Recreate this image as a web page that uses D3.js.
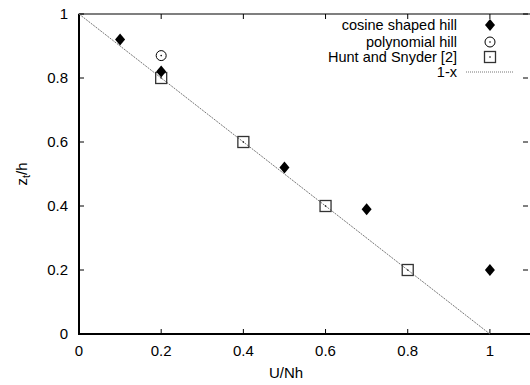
<!DOCTYPE html>
<html lang="en">
<head>
  <meta charset="UTF-8">
  <title>z_t/h versus U/Nh</title>
  <style>
    body { margin: 0; background: #fff; }
    text { font-family: "Liberation Sans", Arial, sans-serif; font-size: 15px; fill: #000; }
    .legend text { font-size: 14.5px; }
  </style>
</head>
<body>
<div id="chart"></div>
<script src="https://d3js.org/d3.v7.min.js"></script>
<script>
  // data
  var cosineX = [0.1, 0.2, 0.5, 0.7, 1.0];
  var cosineY = [0.92, 0.82, 0.52, 0.39, 0.2];
  var polyX = [0.2];
  var polyY = [0.87];
  var huntX = [0.2, 0.4, 0.6, 0.8];
  var huntY = [0.8, 0.6, 0.4, 0.2];
  var lineX = [0, 1];
  var xTicks = [0, 0.2, 0.4, 0.6, 0.8, 1];
  var yTicks = [0, 0.2, 0.4, 0.6, 0.8, 1];
  var legendLabels = ["cosine shaped hill", "polynomial hill", "Hunt and Snyder [2]", "1-x"];

  var width = 530, height = 385;
  var pL = 79, pT = 14, pR = 531, pB = 334;

  var svg = d3.select("#chart").append("svg")
    .attr("width", width)
    .attr("height", height);

  var x = d3.scaleLinear().domain([0, 1.1]).range([pL, pR]);
  var y = d3.scaleLinear().domain([0, 1]).range([pB, pT]);

  // frame: thin top/right, heavier left/bottom
  svg.append("rect")
    .attr("x", pL).attr("y", pT)
    .attr("width", pR - pL).attr("height", pB - pT)
    .attr("fill", "none").attr("stroke", "#000").attr("stroke-width", 1);
  svg.append("path")
    .attr("d", "M" + pL + "," + pT + "V" + pB + "H" + pR)
    .attr("fill", "none").attr("stroke", "#000").attr("stroke-width", 2);

  // ticks (inward, mirrored)
  var tickLen = 5;
  xTicks.forEach(function(t) {
    svg.append("line").attr("x1", x(t)).attr("x2", x(t))
      .attr("y1", pB).attr("y2", pB - tickLen).attr("stroke", "#000");
    svg.append("line").attr("x1", x(t)).attr("x2", x(t))
      .attr("y1", pT).attr("y2", pT + tickLen).attr("stroke", "#000");
    svg.append("text").attr("x", x(t)).attr("y", pB + 22)
      .attr("text-anchor", "middle").text(d3.format("")(t));
  });
  yTicks.forEach(function(t) {
    svg.append("line").attr("x1", pL).attr("x2", pL + tickLen)
      .attr("y1", y(t)).attr("y2", y(t)).attr("stroke", "#000");
    svg.append("line").attr("x1", pR - 3).attr("x2", pR - 3 - tickLen)
      .attr("y1", y(t)).attr("y2", y(t)).attr("stroke", "#000");
    svg.append("text").attr("x", pL - 11).attr("y", y(t) + 5)
      .attr("text-anchor", "end").text(d3.format("")(t));
  });

  // axis labels
  svg.append("text").attr("x", 286).attr("y", 378)
    .attr("text-anchor", "middle").text("U/Nh");
  var yl = svg.append("text")
    .attr("transform", "translate(27," + ((pT + pB) / 2) + ") rotate(-90)")
    .attr("text-anchor", "middle");
  yl.append("tspan").text("z");
  yl.append("tspan").attr("dy", 3).style("font-size", "11px").text("t");
  yl.append("tspan").attr("dy", -3).text("/h");

  // 1-x line
  var lineGen = d3.line()
    .x(function(d) { return x(d); })
    .y(function(d) { return y(1 - d); });
  svg.append("path").datum(lineX)
    .attr("d", lineGen)
    .attr("fill", "none").attr("stroke", "#777").attr("stroke-width", 1)
    .attr("stroke-dasharray", "2,1");

  function zip(xs, ys) { return xs.map(function(v, i) { return [v, ys[i]]; }); }

  function drawDiamond(g, cx, cy) {
    g.append("path").attr("d", "M" + cx + "," + (cy - 6) + "L" + (cx + 5) + "," + cy +
      "L" + cx + "," + (cy + 6) + "L" + (cx - 5) + "," + cy + "Z").attr("fill", "#000");
  }
  function drawCircle(g, cx, cy) {
    g.append("circle").attr("cx", cx).attr("cy", cy).attr("r", 5)
      .attr("fill", "none").attr("stroke", "#000").attr("stroke-width", 1);
    g.append("circle").attr("cx", cx).attr("cy", cy).attr("r", 0.8).attr("fill", "#000");
  }
  function drawSquare(g, cx, cy) {
    g.append("rect").attr("x", cx - 5.5).attr("y", cy - 5.5).attr("width", 11).attr("height", 11)
      .attr("fill", "none").attr("stroke", "#333").attr("stroke-width", 1.3);
    g.append("circle").attr("cx", cx).attr("cy", cy).attr("r", 0.8).attr("fill", "#000");
  }

  var pts = svg.append("g");
  zip(huntX, huntY).forEach(function(d) { drawSquare(pts, x(d[0]), y(d[1])); });
  zip(polyX, polyY).forEach(function(d) { drawCircle(pts, x(d[0]), y(d[1])); });
  zip(cosineX, cosineY).forEach(function(d) { drawDiamond(pts, x(d[0]), y(d[1])); });

  // legend
  var legY = [25, 42, 57, 72];
  var leg = svg.append("g").attr("class", "legend");
  legendLabels.forEach(function(l, i) {
    leg.append("text").attr("x", 457).attr("y", legY[i] + 5)
      .attr("text-anchor", "end").text(l);
  });
  drawDiamond(leg, 490, legY[0]);
  drawCircle(leg, 490, legY[1]);
  drawSquare(leg, 490, legY[2]);
  leg.append("line").attr("x1", 466).attr("x2", 513).attr("y1", legY[3]).attr("y2", legY[3])
    .attr("stroke", "#777").attr("stroke-dasharray", "1,1");
</script>
</body>
</html>
